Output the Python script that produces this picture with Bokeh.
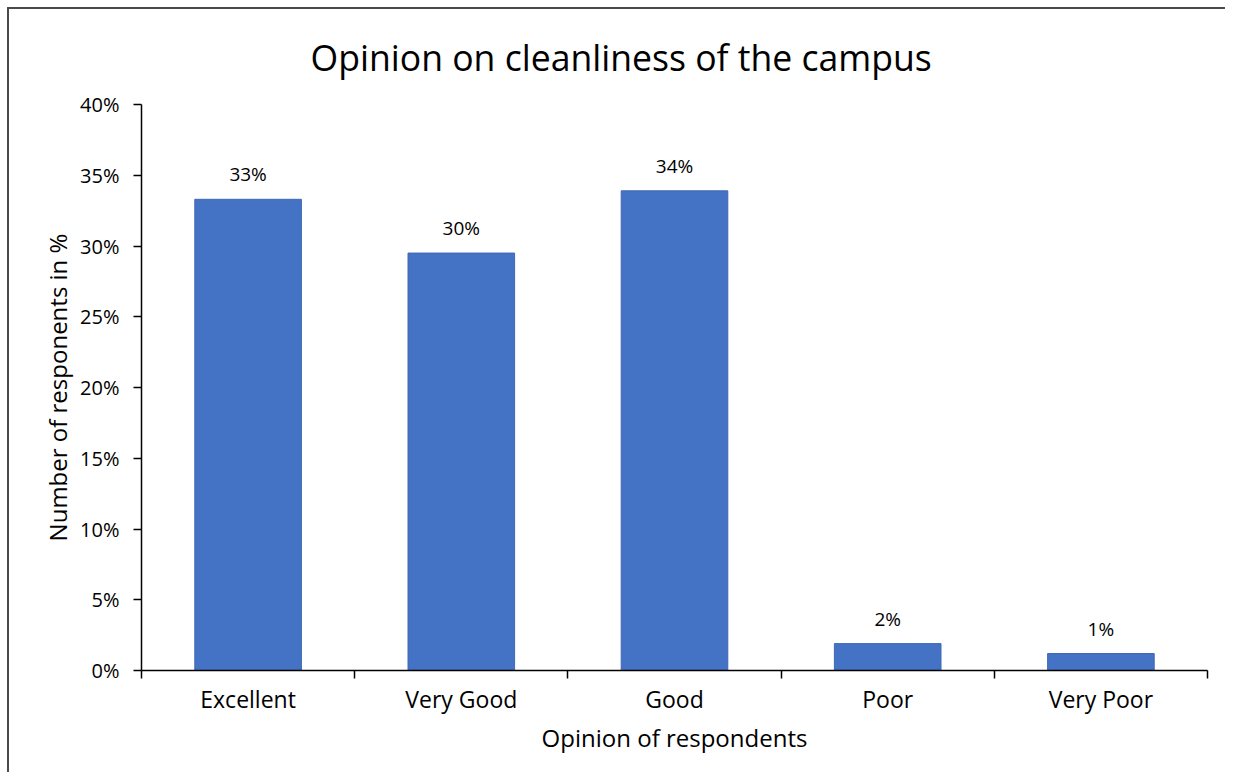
from bokeh.plotting import figure
from bokeh.models import FixedTicker, ColumnDataSource, LabelSet, PrintfTickFormatter, Range1d
from bokeh.core.properties import value
from bokeh.embed import file_html
from bokeh.resources import INLINE

# ---- data ----
categories = ["Excellent", "Very Good", "Good", "Poor", "Very Poor"]
values = [33.3, 29.5, 33.9, 1.9, 1.2]          # percent of respondents
value_labels = ["33%", "30%", "34%", "2%", "1%"]
y_tick_values = [0, 5, 10, 15, 20, 25, 30, 35, 40]

title_text = "Opinion on cleanliness of the campus"
x_title = "Opinion of respondents"
y_title = "Number of responents in %"

FONT = "Open Sans"

n = len(categories)
centers = [i + 0.5 for i in range(n)]
bounds = list(range(n + 1))

src = ColumnDataSource(dict(x=centers, top=values, cat=categories, lab=value_labels))

p = figure(width=1225, height=772, output_backend="svg", toolbar_location=None,
           x_range=Range1d(0, n), y_range=Range1d(0, 40),
           min_border_left=141, min_border_right=18, min_border_top=104, min_border_bottom=102,
           title=title_text)
# thin dark frame lines on the left and top of the chart area (as in the reference)
p.styles = {
    "background": "linear-gradient(#4a4a4a,#4a4a4a) 7px 8px / 2px 100% no-repeat, "
                  "linear-gradient(#4a4a4a,#4a4a4a) 7px 7px / 100% 2px no-repeat, white",
}

p.vbar(x="x", top="top", width=0.5, source=src, fill_color="#4472C4",
       line_color="#3F68B5", line_width=1)

labels = LabelSet(x="x", y="top", text="lab", source=src, text_align="center",
                  text_baseline="alphabetic", y_offset=18, text_font=value(FONT),
                  text_font_size="19px", text_color="#000000")
p.add_layout(labels)

# title
p.title.text_font = FONT
p.title.text_font_size = "35.6px"
p.title.text_font_style = "normal"
p.title.text_color = "#000000"
p.title.align = "left"
p.title.offset = 169
p.title.standoff = 47

p.grid.visible = False
p.outline_line_color = None
p.background_fill_color = "white"
p.border_fill_color = None

# x axis
xa = p.xaxis[0]
xa.ticker = FixedTicker(ticks=centers, minor_ticks=bounds)
xa.major_label_overrides = {c: cat for c, cat in zip(centers, categories)}
xa.major_tick_out = 0
xa.major_tick_in = 0
xa.minor_tick_out = 8
xa.minor_tick_in = 0
xa.minor_tick_line_color = "#000000"
xa.minor_tick_line_width = 1.5
xa.axis_line_color = "#000000"
xa.axis_line_width = 1.5
xa.major_label_text_font = FONT
xa.major_label_text_font_size = "23px"
xa.major_label_text_color = "#000000"
xa.major_label_standoff = 4
xa.axis_label = x_title
xa.axis_label_text_font = FONT
xa.axis_label_text_font_size = "24px"
xa.axis_label_text_font_style = "normal"
xa.axis_label_text_color = "#000000"
xa.axis_label_standoff = 3

# y axis
ya = p.yaxis[0]
ya.ticker = FixedTicker(ticks=y_tick_values, minor_ticks=[])
ya.formatter = PrintfTickFormatter(format="%d%%")
ya.major_tick_out = 8
ya.major_tick_in = 0
ya.major_tick_line_color = "#000000"
ya.major_tick_line_width = 1.5
ya.minor_tick_out = 0
ya.minor_tick_in = 0
ya.axis_line_color = "#000000"
ya.axis_line_width = 1.5
ya.major_label_text_font = FONT
ya.major_label_text_font_size = "20px"
ya.major_label_text_color = "#000000"
ya.major_label_standoff = 14
ya.axis_label = y_title
ya.axis_label_text_font = FONT
ya.axis_label_text_font_size = "24px"
ya.axis_label_text_font_style = "normal"
ya.axis_label_text_color = "#000000"
ya.axis_label_standoff = 3

open("out.html", "w").write(file_html(p, INLINE))
